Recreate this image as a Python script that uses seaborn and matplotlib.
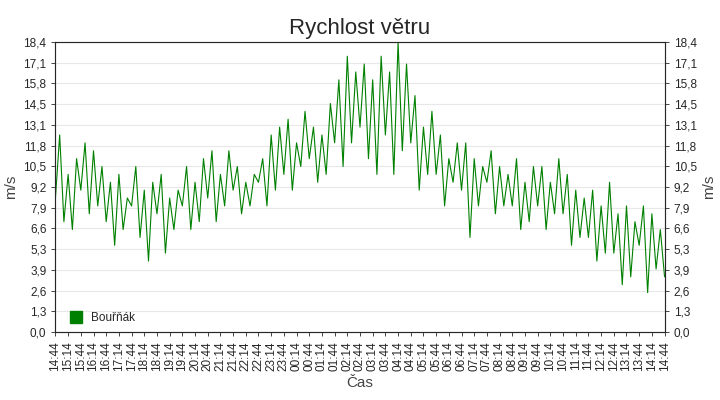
import matplotlib
matplotlib.use("Agg")
import matplotlib.pyplot as plt
import seaborn as sns
import pandas as pd
import numpy as np
from matplotlib.lines import Line2D

sns.set_style("white")
plt.rcParams['font.family'] = ['Liberation Sans', 'DejaVu Sans']

speed = [
 8.5,12.5,7,10,6.5,11,
 9,12,7.5,11.5,8,10.5,
 7,9.5,5.5,10,6.5,8.5,
 8,10.5,6,9,4.5,9.5,
 7.5,10,5,8.5,6.5,9,
 8,10.5,6.5,9.5,7,11,
 8.5,11.5,7,10,8,11.5,
 9,10.5,7.5,9.5,8,10,
 9.5,11,8,12.5,9,13,
 10,13.5,9,12,10.5,14,
 11,13,9.5,12.5,10,14.5,
 12,16,10.5,17.5,12,16.5,
 13,17,11,16,10,17.5,
 12.5,16.5,10,18.4,11.5,17,
 12,15,9,13,10,14,
 10,12.5,8,11,9.5,12,
 9,12,6,11,8,10.5,
 9.5,11.5,7.5,10.5,8,10,
 8,11,6.5,9.5,7,10.5,
 8,10.5,6.5,9.5,7.5,11,
 7.5,10,5.5,9,6,8.5,
 6,9,4.5,8,5,9.5,
 5,7.5,3,8,3.5,7,
 5.5,8,2.5,7.5,4,6.5,
 3.5,
]
minutes = [10*i for i in range(len(speed))]
xlabels = []
h, m = 14, 44
for i in range(49):
    xlabels.append(f"{h:02d}:{m:02d}")
    m += 30
    if m >= 60:
        m -= 60; h = (h + 1) % 24
yticks = [0,1.3,2.6,3.9,5.3,6.6,7.9,9.2,10.5,11.8,13.1,14.5,15.8,17.1,18.4]
yticklabels = [f"{v:.1f}".replace('.', ',') for v in yticks]

df = pd.DataFrame({"t": minutes, "v": speed})
fig = plt.figure(figsize=(7.2, 4.0), dpi=100)
ax = fig.add_axes([0.077, 0.17, 0.846, 0.725])
sns.lineplot(data=df, x="t", y="v", ax=ax, color="#008000", linewidth=0.8)
ax.set_xlim(0, 1440)
ytick_pos = [i*18.4/14 for i in range(15)]
ax.set_ylim(0, 18.4)
ax.set_yticks(ytick_pos)
ax.set_yticklabels(yticklabels, fontsize=8.5)
ax.set_xticks([30*i for i in range(49)])
ax.set_xticklabels(xlabels, rotation=90, fontsize=8.5)
ax.grid(axis='y', color='#e8e8e8', linewidth=0.8)
ax.set_xlabel("Čas", fontsize=11, color='#444444')
ax.set_ylabel("m/s", fontsize=11, color='#444444')
ax.set_title("Rychlost větru", fontsize=16)
ax.tick_params(length=3, width=0.6, bottom=True, left=True)
for s in ax.spines.values():
    s.set_color('#888888')
ax2 = ax.twinx()
ax2.set_ylim(0, 18.4)
ax2.set_yticks(ytick_pos)
ax2.set_yticklabels(yticklabels, fontsize=8.5)
ax2.set_ylabel("m/s", fontsize=11, color='#444444')
ax2.tick_params(length=3, width=0.6)
h_ = Line2D([], [], marker='s', color='#008000', linestyle='none', markersize=9)
ax.legend([h_], ["Bouřňák"], loc='lower left', frameon=False, fontsize=8.5, handletextpad=0.3, borderaxespad=0.3)
fig.savefig("out.png", dpi=100)
